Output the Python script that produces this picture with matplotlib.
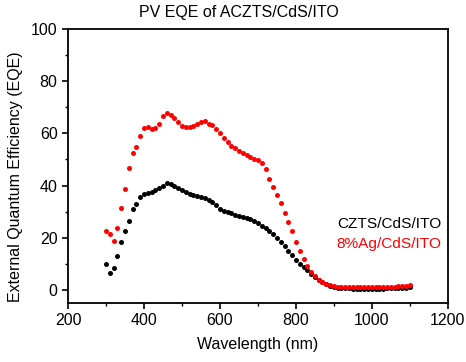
import numpy as np
import matplotlib
matplotlib.use("Agg")
import matplotlib.pyplot as plt

plt.rcParams['font.family'] = ['Liberation Sans', 'DejaVu Sans']

# wavelength grid, 10 nm steps
wavelength = list(range(300, 1101, 10))

czts = [9.9, 6.4, 8.6, 13.0, 18.5, 22.6, 26.4, 30.9, 32.8, 35.5,
        36.9, 37.3, 37.7, 38.2, 38.9, 39.8, 40.8, 40.5, 39.9, 39.1,
        38.3, 37.5, 36.8, 36.3, 35.9, 35.5, 35.1, 34.6, 33.8, 32.5,
        31.2, 30.4, 29.8, 29.3, 28.8, 28.4, 28.0, 27.5, 27.0, 26.3,
        25.5, 24.6, 23.6, 22.6, 21.3, 20.0, 18.5, 16.8, 15.0, 13.2,
        11.3, 10.0, 8.8, 7.5, 6.2, 5.0, 4.0, 3.0, 2.3, 1.7,
        1.2, 0.9, 0.7, 0.6, 0.6, 0.5, 0.5, 0.5, 0.5, 0.5,
        0.5, 0.5, 0.5, 0.5, 0.6, 0.6, 0.6, 0.6, 0.7, 0.7, 1.0]

ag = [22.7, 21.3, 18.7, 23.6, 31.4, 38.6, 46.8, 52.6, 54.7, 59.1,
      62.0, 62.4, 61.5, 62.2, 63.7, 66.7, 67.8, 67.2, 65.9, 64.4,
      62.7, 62.6, 62.6, 63.0, 63.7, 64.4, 64.7, 63.7, 63.2, 61.8,
      60.0, 58.1, 56.5, 55.2, 54.3, 53.4, 52.5, 51.6, 51.0, 50.3,
      49.8, 48.5, 46.5, 42.5, 39.5, 36.5, 33.2, 29.6, 26.0, 22.5,
      18.5, 15.0, 11.7, 9.0, 6.8, 5.2, 4.0, 3.0, 2.3, 1.8,
      1.5, 1.3, 1.2, 1.2, 1.2, 1.2, 1.2, 1.2, 1.2, 1.2,
      1.2, 1.2, 1.2, 1.2, 1.3, 1.3, 1.3, 1.4, 1.4, 1.5, 2.0]

labels = ["CZTS/CdS/ITO", "8%Ag/CdS/ITO"]
colors = ["black", "#ff0000"]

fig = plt.figure(figsize=(4.66, 3.62), dpi=100)
ax = fig.add_axes([0.146, 0.163, 0.815, 0.757])

ax.plot(wavelength, czts, 'o', color=colors[0], markersize=3.6, markeredgewidth=0)
ax.plot(wavelength, ag, 'o', color=colors[1], markersize=3.6, markeredgewidth=0)

ax.set_xlim(200, 1200)
ax.set_ylim(-5, 100)
ax.set_xticks(np.arange(200, 1201, 200))
ax.set_xticks(np.arange(300, 1200, 200), minor=True)
ax.set_yticks(np.arange(0, 101, 20))
ax.set_yticks(np.arange(10, 100, 20), minor=True)
ax.tick_params(which='major', direction='out', length=4, width=1.2, labelsize=11.5)
ax.tick_params(which='minor', direction='out', length=2.5, width=1.0)
for s in ax.spines.values():
    s.set_linewidth(1.3)

ax.set_xlabel("Wavelength (nm)", fontsize=11.5, labelpad=6)
ax.set_ylabel("External Quantum Efficiency (EQE)", fontsize=11.5, va='center')
ax.yaxis.set_label_coords(-0.139, 0.46)
fig.text(0.513, 0.965, "PV EQE of ACZTS/CdS/ITO", ha='center', va='center', fontsize=11.5)

ax.text(1184, 25.4, labels[0], color=colors[0], ha='right', va='center', fontsize=11.1)
ax.text(1184, 17.7, labels[1], color=colors[1], ha='right', va='center', fontsize=11.1)

fig.savefig("out.png", dpi=100)
